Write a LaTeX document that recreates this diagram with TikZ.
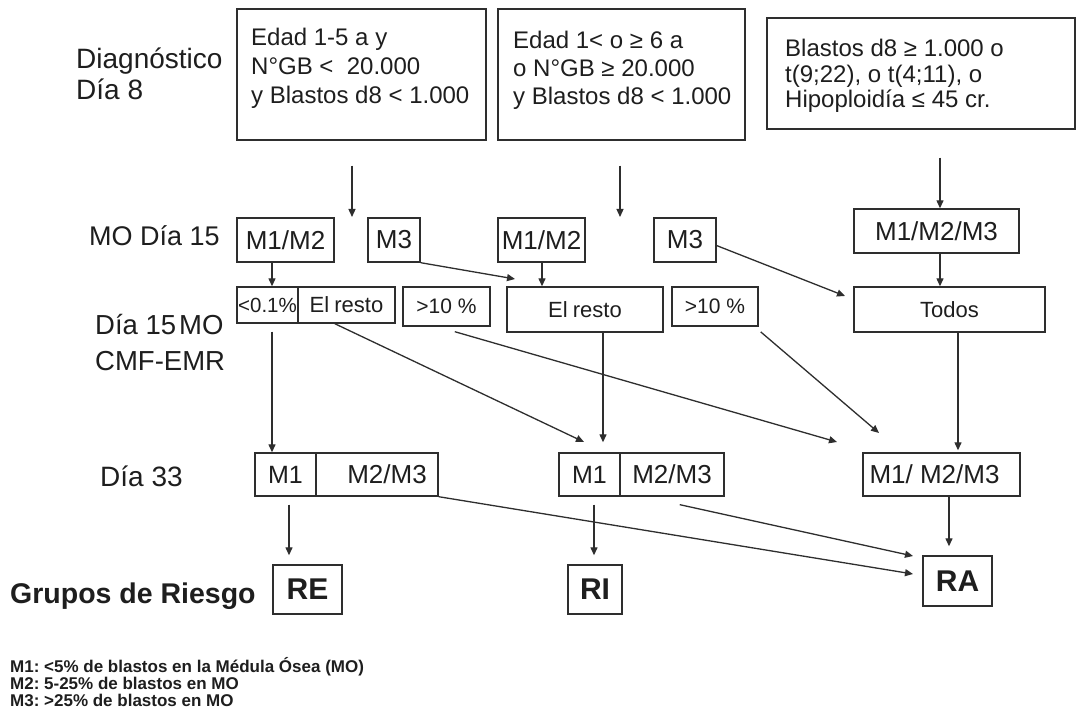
\documentclass[tikz,border=0pt]{standalone}
\usepackage{fontspec}
\setmainfont{Liberation Sans}
\usetikzlibrary{arrows.meta}
\definecolor{ink}{HTML}{1E1E1E}
\definecolor{edge}{HTML}{2E2E2E}
\frenchspacing
\begin{document}
\begin{tikzpicture}[x=1pt,y=-1pt,
  box/.style={draw=edge, line width=1.4pt, inner sep=0pt, text=ink, minimum width=#1},
  box/.default=10pt,
  arr/.style={draw=edge, line width=1.3pt, -{Triangle[length=8pt,width=7pt]}},
  lbl/.style={anchor=base west, inner sep=0pt, text=ink},
  mfont/.style={font=\fontsize{26}{30}\selectfont},
  sfont/.style={font=\fontsize{22}{26}\selectfont},
  rfont/.style={font=\bfseries\fontsize{30}{34}\selectfont},
]
\useasboundingbox (0,0) rectangle (1078,719);
\fill[white] (0,0) rectangle (1078,719);

% ---- left labels
\node[lbl] (ldiag) at (76,69) {\parbox[t]{200pt}{\fontsize{28}{31}\selectfont Diagnóstico\\Día 8}};
\node[lbl, font=\fontsize{27}{31}\selectfont] (lmo) at (89,246) {MO Día 15};
\node[lbl] (lcmf) at (95,334) {\parbox[t]{200pt}{\fontsize{27.5}{36.5}\selectfont Día 15\kern3pt MO\\CMF-EMR}};
\node[lbl, font=\fontsize{28}{32}\selectfont] (l33) at (100,486.5) {Día 33};
\node[lbl, font=\bfseries\fontsize{28.5}{32}\selectfont] (lgr) at (10,603) {Grupos de Riesgo};

% ---- top boxes
\node[box=249pt, minimum height=131pt] (b1) at (361.5,74.5) {};
\node[box=247pt, minimum height=131pt] (b2) at (621.5,74.5) {};
\node[box=308pt, minimum height=111pt] (b3) at (921,73.5) {};
\node[lbl] (b1t) at (251,46) {\parbox[t]{230pt}{\fontsize{24}{29}\selectfont Edad 1-5 a y\\N°GB <\ \ 20.000\\y Blastos d8 < 1.000}};
\node[lbl] (b2t) at (513,48.5) {\parbox[t]{230pt}{\fontsize{24}{28}\selectfont Edad\ 1< o ≥ 6 a\\o N°GB ≥ 20.000\\y Blastos d8 < 1.000}};
\node[lbl] (b3t) at (785,57) {\parbox[t]{280pt}{\fontsize{24}{25.5}\selectfont Blastos d8 ≥ 1.000 o\\t(9;22), o t(4;11), o\\Hipoploidía ≤ 45 cr.}};

% ---- MO dia 15
\node[box=97pt, minimum height=44pt, mfont] (m12a) at (285.5,240) {M1/M2};
\node[box=52pt, minimum height=44pt, mfont] (m3a) at (394,240) {M3};
\node[box=87pt, minimum height=44pt, mfont] (m12b) at (541.5,240) {M1/M2};
\node[box=62pt, minimum height=44pt, mfont] (m3b) at (685,240) {M3};
\node[box=165pt, minimum height=44pt, mfont] (m123) at (936.5,231) {M1/M2/M3};

% ---- dia 15 CMF
\node[box=61pt, minimum height=36pt, font=\fontsize{20.5}{24}\selectfont] (lt01) at (267.5,305) {<0.1\%};
\node[box=97pt, minimum height=36pt, sfont] (er1) at (346.5,305) {\raisebox{-1pt}{El\kern-1pt\ resto}};
\node[box=87pt, minimum height=39pt, font=\fontsize{21}{24}\selectfont] (gt1) at (446.5,306.5) {>10 \%};
\node[box=156pt, minimum height=45pt, sfont] (er2) at (585,309.5) {El\kern-1pt\ resto};
\node[box=86pt, minimum height=39pt, font=\fontsize{21}{24}\selectfont] (gt2) at (715,306.5) {>10 \%};
\node[box=191pt, minimum height=45pt, sfont] (todos) at (949.5,309.5) {Todos};

% ---- dia 33
\node[box=61pt, minimum height=43pt, font=\fontsize{25}{28}\selectfont] (d33aL) at (285.5,474.5) {M1};
\node[box=122pt, minimum height=43pt, mfont] (d33aR) at (377,474.5) {\hspace*{20pt}M2/M3};
\node[box=61pt, minimum height=43pt, font=\fontsize{25}{28}\selectfont] (d33bL) at (589.5,474.5) {M1};
\node[box=104pt, minimum height=43pt, mfont] (d33bR) at (672,474.5) {M2/M3};
\node[box=157pt, minimum height=43pt, mfont] (d33c) at (941.5,474.5) {M1/ M2/M3\hspace*{14pt}};

% ---- risk groups
\node[box=69pt, minimum height=49pt, rfont] (re) at (307.5,589.5) {RE};
\node[box=54pt, minimum height=49pt, rfont] (ri) at (595,589.5) {RI};
\node[box=69pt, minimum height=50pt, rfont] (ra) at (957.5,581) {RA};

% ---- legend
\node[lbl] (legend) at (10,672) {\parbox[t]{500pt}{\bfseries\fontsize{17}{17}\selectfont M1: <5\% de blastos en la Médula Ósea (MO)\\M2: 5-25\% de blastos en MO\\M3: >25\% de blastos en MO}};

% ---- helper coordinates
\coordinate (a1) at (352,217);
\coordinate (a2) at (620,217);
\coordinate (vA) at (272,0);
\coordinate (vB) at (542,0);
\coordinate (vC) at (940,0);
\coordinate (vD) at (603,0);
\coordinate (vE) at (958,0);
\coordinate (vF) at (289,0);
\coordinate (vG) at (594,0);
\coordinate (vH) at (949,0);
\coordinate (e5) at (515,279);
\coordinate (e7) at (845,296);
\coordinate (e10) at (584,442);
\coordinate (e11) at (837,442);
\coordinate (e13) at (879,433);
\coordinate (e17) at (913,574);
\coordinate (e18) at (913,556);

% ---- connectors
\draw[arr, shorten <=25pt] (b1.south -| a1) -- (a1);
\draw[arr, shorten <=25pt] (b2.south -| a2) -- (a2);
\draw[arr, shorten <=28pt] (vC |- b3.south) -- (vC |- m123.north);
\draw[arr] (vA |- m12a.south) -- (vA |- lt01.north);
\draw[arr] (m3a.south east) -- (e5);
\draw[arr] (vB |- m12b.south) -- (vB |- er2.north);
\draw[arr] (m3b.-10) -- (e7);
\draw[arr] (vC |- m123.south) -- (vC |- todos.north);
\draw[arr, shorten <=8pt] (vA |- lt01.south) -- (vA |- d33aL.north);
\draw[arr] (er1.-122) -- (e10);
\draw[arr, shorten <=18pt] (gt1.-114) -- (e11);
\draw[arr, shorten >=10pt] (vD |- er2.south) -- (vD |- d33bL.north);
\draw[arr, shorten <=8pt] (gt2.-27) -- (e13);
\draw[arr, shorten >=2pt] (vE |- todos.south) -- (vE |- d33c.north);
\draw[arr, shorten <=8pt, shorten >=9pt] (vF |- d33aL.south) -- (vF |- re.north);
\draw[arr, shorten <=8pt, shorten >=9pt] (vG |- d33bL.south) -- (vG |- ri.north);
\draw[arr] (d33aR.south east) -- (e17);
\draw[arr, shorten <=37pt] (d33bR.-142) -- (e18);
\draw[arr, shorten >=9pt] (vH |- d33c.south) -- (vH |- ra.north);
\end{tikzpicture}
\end{document}
